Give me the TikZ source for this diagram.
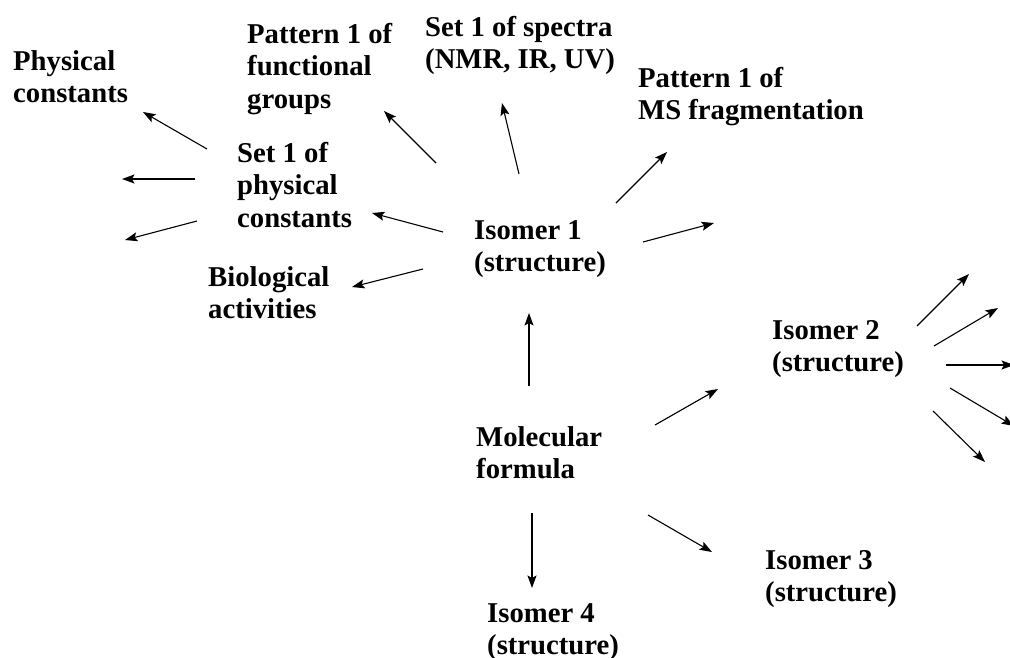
\documentclass[tikz,border=0pt]{standalone}
\usepackage{fontspec}
\setmainfont{Liberation Serif}
\usetikzlibrary{arrows.meta}
\begin{document}
\begin{tikzpicture}[x=1pt,y=-1pt,
  lbl/.style={anchor=north west,inner sep=0pt,align=left,
    font=\fontsize{28.7}{32.5}\selectfont\bfseries},
  arr/.style={line width=1.1pt,-{Stealth[length=12.5pt,width=9pt,inset=2.5pt]}}]
\useasboundingbox (0,0) rectangle (1010,657);
% labels: (left, first baseline - strut height 22.75)
\node[lbl] (phys) at (13,47.25)   {\strut Physical\\constants};
\node[lbl] (pfg)  at (247,20.25)  {\strut Pattern 1 of\\functional\\groups};
\node[lbl] (spec) at (425,13.25)  {\strut Set 1 of spectra\\(NMR, IR, UV)};
\node[lbl] (pms)  at (638,64.25)  {\strut Pattern 1 of\\MS fragmentation};
\node[lbl] (set1) at (237,139.25) {\strut Set 1 of\\physical\\constants};
\node[lbl] (iso1) at (474,216.25) {\strut Isomer 1\\(structure)};
\node[lbl] (bio)  at (208,263.25) {\strut Biological\\activities};
\node[lbl] (iso2) at (772,316.25) {\strut Isomer 2\\(structure)};
\node[lbl] (mol)  at (476,423.25) {\strut Molecular\\formula};
\node[lbl] (iso3) at (765,546.25) {\strut Isomer 3\\(structure)};
\node[lbl] (iso4) at (487,599.25) {\strut Isomer 4\\(structure)};
% arrow end points
\coordinate (s1a) at (207,149); \coordinate (e1a) at (143,112);
\coordinate (s1b) at (195,179); \coordinate (e1b) at (122,179);
\coordinate (s1c) at (197,221); \coordinate (e1c) at (125,240);
\coordinate (i1a) at (436,163); \coordinate (f1a) at (384,111);
\coordinate (i1b) at (519,174); \coordinate (f1b) at (502,103);
\coordinate (i1c) at (616,203); \coordinate (f1c) at (667,152);
\coordinate (i1d) at (443,232); \coordinate (f1d) at (372,213);
\coordinate (i1e) at (643,242); \coordinate (f1e) at (714,223);
\coordinate (i1f) at (423,269); \coordinate (f1f) at (352,287);
\coordinate (m1a) at (529,386); \coordinate (n1a) at (529,313);
\coordinate (m1b) at (655,425); \coordinate (n1b) at (718,389);
\coordinate (m1c) at (648,515); \coordinate (n1c) at (712,552);
\coordinate (m1d) at (532,513); \coordinate (n1d) at (532,588);
\coordinate (i2a) at (917,326); \coordinate (g2a) at (969,274);
\coordinate (i2b) at (934,346); \coordinate (g2b) at (998,308);
\coordinate (i2c) at (946,365); \coordinate (g2c) at (1014,365);
\coordinate (i2d) at (950,388); \coordinate (g2d) at (1014,426);
\coordinate (i2e) at (933,411); \coordinate (g2e) at (985,462);
% arrows
\draw[arr] (s1a) -- (e1a);
\draw[arr] (s1b) -- (e1b);
\draw[arr] (s1c) -- (e1c);
\draw[arr] (i1a) -- (f1a);
\draw[arr] (i1b) -- (f1b);
\draw[arr] (i1c) -- (f1c);
\draw[arr] (i1d) -- (f1d);
\draw[arr] (i1e) -- (f1e);
\draw[arr] (i1f) -- (f1f);
\draw[arr] (m1a) -- (n1a);
\draw[arr] (m1b) -- (n1b);
\draw[arr] (m1c) -- (n1c);
\draw[arr] (m1d) -- (n1d);
\draw[arr] (i2a) -- (g2a);
\draw[arr] (i2b) -- (g2b);
\draw[arr] (i2c) -- (g2c);
\draw[arr] (i2d) -- (g2d);
\draw[arr] (i2e) -- (g2e);
\end{tikzpicture}
\end{document}
